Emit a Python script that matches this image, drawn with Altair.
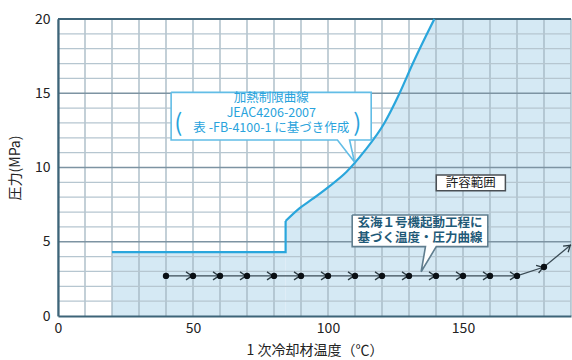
import math
import altair as alt
import pandas as pd

FONT = "Noto Sans CJK JP"
W, H = 513, 297
X_MAX, Y_MAX = 190, 20

# Grid / tick positions
temp_grid = [0, 10, 20, 30, 40, 50, 60, 70, 80, 90, 100, 110, 120, 130, 140, 150, 160, 170, 180, 190]
press_grid = [1, 2, 3, 4, 5, 6, 7, 8, 9, 10, 11, 12, 13, 14, 15, 16, 17, 18, 19, 20]
temp_labels = [0, 50, 100, 150]
press_labels = [0, 5, 10, 15, 20]

# Heat-up limit curve (JEAC4206-2007, table FB-4100-1): flat part + step, then rising part
flat_temp = [20, 84.3, 84.3]
flat_press = [4.3, 4.3, 6.4]
rise_temp = [84.3, 89.4, 94.4, 100.6, 106.8, 113.5, 120.9, 126.5, 131.4, 136.4, 139.4]
rise_press = [6.4, 7.25, 7.9, 8.75, 9.7, 11.1, 13.0, 15.0, 17.0, 18.9, 20.0]

# Allowed region: below the limit curve, capped at the top of the chart
zone_flat_temp = [20, 84.3]
zone_flat_press = [4.3, 4.3]
zone_rise_temp = rise_temp + [190]
zone_rise_press = rise_press + [20.0]

# Start-up temperature / pressure path
proc_temp = [40, 50, 60, 70, 80, 90, 100, 110, 120, 130, 140, 150, 160, 170, 180, 190]
proc_press = [2.7, 2.7, 2.7, 2.7, 2.7, 2.7, 2.7, 2.7, 2.7, 2.7, 2.7, 2.7, 2.7, 2.7, 3.3, 4.8]

# Callout outlines (box with pointer), in data units
callout1_x = [41.9, 116.0, 116.0, 108.0, 109.8, 103.5, 41.9, 41.9]
callout1_y = [15.06, 15.06, 11.85, 11.85, 10.37, 11.85, 11.85, 15.06]
callout2_x = [108.96, 159.2, 159.2, 140.1, 134.5, 136.1, 108.96, 108.96]
callout2_y = [6.80, 6.80, 4.67, 4.67, 2.98, 4.67, 4.67, 6.80]

callout1_lines = ["加熱制限曲線", "JEAC4206-2007", "表 -FB-4100-1 に基づき作成"]
callout1_anchor = (79.0, 14.65)   # first line
bracket_text = ["(", ")"]
bracket_x = [44.6, 110.9]
bracket_y = [12.95, 12.95]

callout2_lines = ["玄海１号機起動工程に", "基づく温度・圧力曲線"]
callout2_anchor = (134.1, 6.25)   # first line

zone_label = ["許容範囲"]
zone_box_x, zone_box_x2 = [140.1], [165.7]
zone_box_y, zone_box_y2 = [9.49], [8.44]
zone_lx, zone_ly = [152.9], [8.96]

xs = alt.Scale(domain=[0, X_MAX], nice=False, zero=False)
ys = alt.Scale(domain=[0, Y_MAX], nice=False)

axis_common = dict(
    labelFontSize=14, labelColor="#222222", titleFontSize=14, titleFontWeight="normal",
    titleColor="#222222", ticks=False, domainColor="#3d6478", domainWidth=2.2,
    labelFont=FONT, titleFont=FONT, grid=False, zindex=1,
)
x_axis = alt.Axis(values=temp_labels, labelPadding=5, titlePadding=8, labelFlush=False,
                  **axis_common)
y_axis = alt.Axis(values=press_labels, labelPadding=8, titlePadding=12, **axis_common)
X_TITLE = "1 次冷却材温度（℃）"
Y_TITLE = "圧力(MPa)"


def xq(field):
    return alt.X(f"{field}:Q", scale=xs, axis=x_axis, title=X_TITLE)


def yq(field):
    return alt.Y(f"{field}:Q", scale=ys, axis=y_axis, title=Y_TITLE)


def df(**cols):
    return pd.DataFrame(cols)


# shaded allowed region
ZONE = dict(color="#d5e9f4", opacity=1)
zone_a = alt.Chart(df(t=zone_flat_temp, p=zone_flat_press)).mark_area(**ZONE).encode(
    x=xq("t"), y=yq("p"), y2=alt.Y2(datum=0))
zone_b = alt.Chart(df(t=zone_rise_temp, p=zone_rise_press)).mark_area(
    interpolate="monotone", **ZONE).encode(x=xq("t"), y=yq("p"), y2=alt.Y2(datum=0))

# grid: each grid line is a two-point segment spanning the plot
v_rows, h_rows = [], []
for t in temp_grid:
    v_rows += [{"t": t, "p": 0, "g": f"v{t}"}, {"t": t, "p": Y_MAX, "g": f"v{t}"}]
for p in press_grid:
    kind = "top" if p == Y_MAX else ("major" if p % 5 == 0 else "minor")
    h_rows += [{"t": 0, "p": p, "g": f"h{p}", "k": kind},
               {"t": X_MAX, "p": p, "g": f"h{p}", "k": kind}]
h_df = pd.DataFrame(h_rows)

vgrid = alt.Chart(pd.DataFrame(v_rows)).mark_line(color="#a3b6c2", strokeWidth=1.3).encode(
    x=xq("t"), y=yq("p"), detail="g:N")
hminor = alt.Chart(h_df[h_df.k == "minor"]).mark_line(color="#b6c6d0", strokeWidth=1.3).encode(
    x=xq("t"), y=yq("p"), detail="g:N")
hmajor = alt.Chart(h_df[h_df.k == "major"]).mark_line(color="#7d93a2", strokeWidth=1.5).encode(
    x=xq("t"), y=yq("p"), detail="g:N")
htop = alt.Chart(h_df[h_df.k == "top"]).mark_line(color="#3d6478", strokeWidth=2.2).encode(
    x=xq("t"), y=yq("p"), detail="g:N")

# heat-up limit curve
limit_flat = alt.Chart(df(t=flat_temp, p=flat_press, i=[0, 1, 2])).mark_line(
    color="#2aa6dc", strokeWidth=2.2).encode(x=xq("t"), y=yq("p"), order=alt.Order("i:Q"))
limit_rise = alt.Chart(df(t=rise_temp, p=rise_press)).mark_line(
    color="#2aa6dc", strokeWidth=2.2, interpolate="monotone").encode(x=xq("t"), y=yq("p"))

# start-up path with direction chevrons
proc_df = df(t=proc_temp, p=proc_press)
px_x, px_y = W / X_MAX, H / Y_MAX
chev = []
for k in range(1, len(proc_temp)):
    dx = (proc_temp[k] - proc_temp[k - 1]) * px_x
    dy = (proc_press[k] - proc_press[k - 1]) * px_y
    ang = (-math.degrees(math.atan2(dy, dx))) % 360
    chev.append({"t": proc_temp[k], "p": proc_press[k], "a": ang})
chev_df = pd.DataFrame(chev)

proc_line = alt.Chart(proc_df).mark_line(color="#3b4b55", strokeWidth=1.3).encode(
    x=xq("t"), y=yq("p"))
chevrons = alt.Chart(chev_df).mark_point(
    shape="M-1.75,-1L-0.25,0L-1.75,1", filled=False, stroke="#2b3a42", strokeWidth=1.3,
    size=64, opacity=1,
).encode(x=xq("t"), y=yq("p"), angle=alt.Angle("a:Q", scale=None))
dots = alt.Chart(proc_df.iloc[:-1]).mark_circle(color="#0a0f14", size=40, opacity=1).encode(
    x=xq("t"), y=yq("p"))

# callouts
callout1 = alt.Chart(df(t=callout1_x, p=callout1_y, i=list(range(len(callout1_x))))).mark_line(
    color="#62bde6", fill="white", strokeWidth=1.6, strokeJoin="miter").encode(
    x=xq("t"), y=yq("p"), order=alt.Order("i:Q"))
callout2 = alt.Chart(df(t=callout2_x, p=callout2_y, i=list(range(len(callout2_x))))).mark_line(
    color="#5f7d8e", fill="white", strokeWidth=1.6, strokeJoin="miter").encode(
    x=xq("t"), y=yq("p"), order=alt.Order("i:Q"))

c1_text = alt.Chart(df(t=[callout1_anchor[0]], p=[callout1_anchor[1]],
                       s=["\n".join(callout1_lines)])).mark_text(
    font=FONT, fontSize=12.5, color="#29a3dc", align="center", baseline="middle",
    lineBreak="\n", lineHeight=15,
).encode(x=xq("t"), y=yq("p"), text="s:N")
brackets = alt.Chart(df(t=bracket_x, p=bracket_y, s=bracket_text)).mark_text(
    font=FONT, fontSize=24, color="#29a3dc", align="center", baseline="middle"
).encode(x=xq("t"), y=yq("p"), text="s:N")
c2_text = alt.Chart(df(t=[callout2_anchor[0]], p=[callout2_anchor[1]],
                       s=["\n".join(callout2_lines)])).mark_text(
    font=FONT, fontSize=12.5, fontWeight="bold", color="#1f5a78", align="center",
    baseline="middle", lineBreak="\n", lineHeight=15,
).encode(x=xq("t"), y=yq("p"), text="s:N")

zone_df = df(x=zone_box_x, x2=zone_box_x2, y=zone_box_y, y2=zone_box_y2,
             t=zone_lx, p=zone_ly, s=zone_label)
zone_box = alt.Chart(zone_df).mark_rect(fill="white", stroke="#4a4f54", strokeWidth=1.5).encode(
    x=xq("x"), x2="x2:Q", y=yq("y"), y2="y2:Q")
zone_text = alt.Chart(zone_df).mark_text(
    font=FONT, fontSize=12.5, color="#1a1a1a", align="center", baseline="middle"
).encode(x=xq("t"), y=yq("p"), text="s:N")

chart = alt.layer(
    zone_a, zone_b, vgrid, hminor, hmajor, htop, limit_flat, limit_rise,
    proc_line, chevrons, dots,
    callout1, brackets, c1_text, callout2, c2_text, zone_box, zone_text,
).properties(
    width=W, height=H,
    autosize=alt.AutoSizeParams(type="none"),
    padding={"left": 58, "top": 19, "right": 1, "bottom": 44},
    background="white",
).configure_view(stroke=None)

chart.save("out.html", embed_options={"renderer": "svg", "actions": False})
